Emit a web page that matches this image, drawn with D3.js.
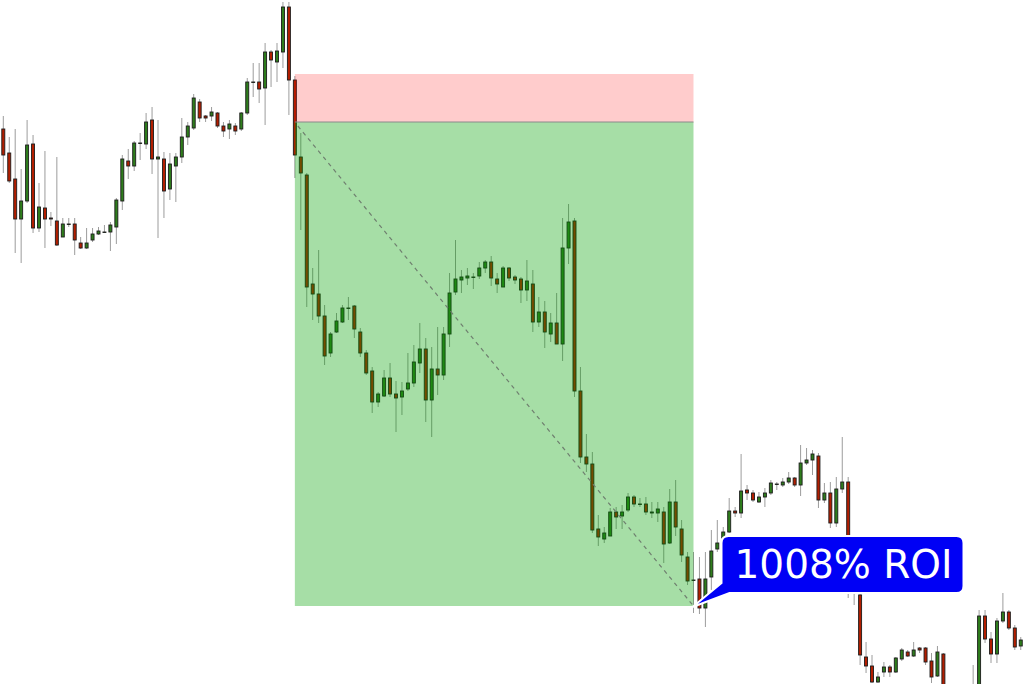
<!DOCTYPE html>
<html>
<head>
<meta charset="utf-8">
<script src="https://cdn.jsdelivr.net/npm/d3@7"></script>
<style>
html, body { margin: 0; padding: 0; background: #fff; overflow: hidden; }
</style>
</head>
<body>
<svg id="chart" width="1024" height="684"></svg>
<script>
// candle data (price units)
const open = [671,647,621,581,599,656,572,592,582,579,563,576,576,557,552,560,566,568,568,573,
  599,639,634,657,656,680,641,641,611,634,643,663,672,698,684,684,687,674,671,674,
  671,687,718,718,712,748,738,748,793,720,643,625,516,506,484,447,468,478,492,494,
  468,447,429,398,404,422,406,403,411,417,437,451,400,431,425,466,508,520,522,523,
  524,532,538,521,513,532,523,521,510,516,478,488,466,477,456,552,579,409,343,336,
  271,261,264,288,284,290,303,296,296,287,287,288,257,298,271,243,220,221,192,223,
  251,262,268,289,287,310,307,298,303,307,316,315,318,322,315,337,340,344,300,307,
  277,311,318,225,205,143,134,118,128,133,128,141,148,144,152,152,139,124,146,105,
  95,100,102,100,110,184,161,146,179,188,172,154];
const high = [684,663,671,631,680,665,617,649,588,643,582,582,582,563,572,572,573,575,578,602,
  645,651,659,667,687,693,680,648,647,647,682,678,706,701,685,693,688,678,680,677,
  688,722,737,737,757,750,757,798,798,724,667,627,532,550,495,468,487,495,503,495,
  472,450,433,408,430,437,419,418,447,455,477,462,453,473,473,527,560,530,532,527,
  538,540,544,527,534,533,525,523,540,530,503,499,487,507,582,596,582,433,366,348,
  285,273,292,293,295,307,305,302,303,298,298,293,311,320,280,248,248,243,248,270,
  280,273,302,293,346,315,310,308,312,320,318,322,328,323,355,352,350,347,317,318,
  323,363,323,240,210,158,145,128,138,135,143,152,150,158,153,153,147,154,147,110,
  108,107,110,135,190,190,168,182,207,190,175,163];
const low = [627,617,547,537,597,567,568,552,574,554,563,573,545,551,551,558,565,567,549,556,
  590,621,629,640,651,626,562,582,600,598,637,655,670,678,678,679,672,663,661,665,
  669,685,703,697,675,713,718,732,685,622,570,493,480,477,435,443,467,477,480,462,
  443,425,387,393,403,403,368,385,409,413,427,378,363,405,420,453,505,507,515,511,
  521,527,514,507,513,519,516,497,499,468,473,452,458,456,439,536,403,337,328,267,
  254,257,264,271,271,288,293,293,285,282,278,237,256,264,238,215,187,186,173,210,
  248,260,267,283,282,300,298,297,293,305,310,313,316,313,304,335,325,292,297,272,
  273,307,202,195,135,127,117,117,123,123,127,139,143,143,147,135,117,123,100,88,
  85,90,95,92,105,157,137,137,177,170,150,150];
const close = [645,619,581,599,655,572,593,581,581,555,576,576,560,552,557,566,569,568,575,600,
  641,634,657,657,678,641,643,609,636,643,663,674,702,682,682,688,674,669,676,669,
  687,718,718,711,748,740,749,793,720,645,627,513,506,484,444,466,479,492,492,471,
  447,427,398,406,422,406,402,409,417,438,451,400,431,425,466,507,521,523,524,523,
  532,538,522,516,532,522,520,510,519,478,488,468,477,456,552,578,409,343,336,270,
  263,267,288,283,288,303,296,296,288,288,291,256,298,273,245,219,220,192,221,249,
  257,268,289,287,309,307,300,303,307,317,316,318,322,315,337,340,346,300,307,277,
  311,318,225,210,145,134,118,123,133,128,142,150,144,150,150,138,123,148,105,95,
  100,102,100,110,184,161,146,179,188,172,153,160];

// short position tool
const entryIndex = 49;
const exitIndex = 116;
const entryPrice = 678;
const stopPrice = 726;
const targetPrice = 194;
const roiText = "1008% ROI";

const svg = d3.select('#chart');
const width = 1024, height = 684;

const xScale = d3.scaleLinear().domain([0, open.length - 1]).range([3.3, 1020.75]);
const yScale = d3.scaleLinear().domain([116, 800]).range([height, 0]);

const body_w = 4;
const up_fill = "#2e7d1c";
const down_fill = "#b21e00";

const candles = open.map((o, i) => ({ i, o, h: high[i], l: low[i], c: close[i] }));

// wicks
svg.append("g").selectAll("line").data(candles).join("line")
  .attr("x1", d => xScale(d.i)).attr("x2", d => xScale(d.i))
  .attr("y1", d => yScale(d.h)).attr("y2", d => yScale(d.l))
  .attr("stroke", "#9c9c9c").attr("stroke-width", 1);

// bodies
svg.append("g").selectAll("rect").data(candles).join("rect")
  .attr("x", d => xScale(d.i) - body_w / 2 + 0.5)
  .attr("width", body_w - 1)
  .attr("y", d => yScale(Math.max(d.o, d.c)))
  .attr("height", d => Math.max(0.5, Math.abs(yScale(d.o) - yScale(d.c))))
  .attr("fill", d => d.c >= d.o ? up_fill : down_fill)
  .attr("stroke", "#1c1c1c").attr("stroke-width", 0.9);

// risk / reward boxes
const bx0 = xScale(entryIndex), bx1 = xScale(exitIndex);
svg.append("rect").attr("x", bx0).attr("width", bx1 - bx0)
  .attr("y", yScale(stopPrice)).attr("height", yScale(entryPrice) - yScale(stopPrice))
  .attr("fill", "rgba(255,0,0,0.2)");
svg.append("rect").attr("x", bx0).attr("width", bx1 - bx0)
  .attr("y", yScale(entryPrice)).attr("height", yScale(targetPrice) - yScale(entryPrice))
  .attr("fill", "rgba(0,160,0,0.35)");
svg.append("line").attr("x1", bx0).attr("x2", bx1)
  .attr("y1", yScale(entryPrice)).attr("y2", yScale(entryPrice))
  .attr("stroke", "#8a8a8a").attr("stroke-width", 1.2);
svg.append("line").attr("x1", bx0 + 3).attr("y1", yScale(entryPrice) + 4)
  .attr("x2", bx1).attr("y2", yScale(targetPrice))
  .attr("stroke", "#6f7f6f").attr("stroke-width", 1.2).attr("stroke-dasharray", "4,4");

// ROI callout
const tx = bx1 - 1, ty = yScale(targetPrice) + 1;
const L = tx + 29, T = ty - 71, R = tx + 271, B = ty - 14, r = 7;
const path = `M${L + r},${T} H${R - r} Q${R},${T} ${R},${T + r} V${B - r} Q${R},${B} ${R - r},${B}`
  + ` H${L + 8} L${tx},${ty} L${L},${B - 10} V${T + r} Q${L},${T} ${L + r},${T} Z`;
svg.append("path").attr("d", path)
  .attr("fill", "#0000f5").attr("stroke", "#ffffff").attr("stroke-width", 2);
svg.append("text").text(roiText)
  .attr("x", tx + 42).attr("y", ty - 29)
  .attr("font-family", "DejaVu Sans, Verdana, sans-serif").attr("font-size", 39)
  .attr("fill", "#ffffff");
</script>
</body>
</html>
